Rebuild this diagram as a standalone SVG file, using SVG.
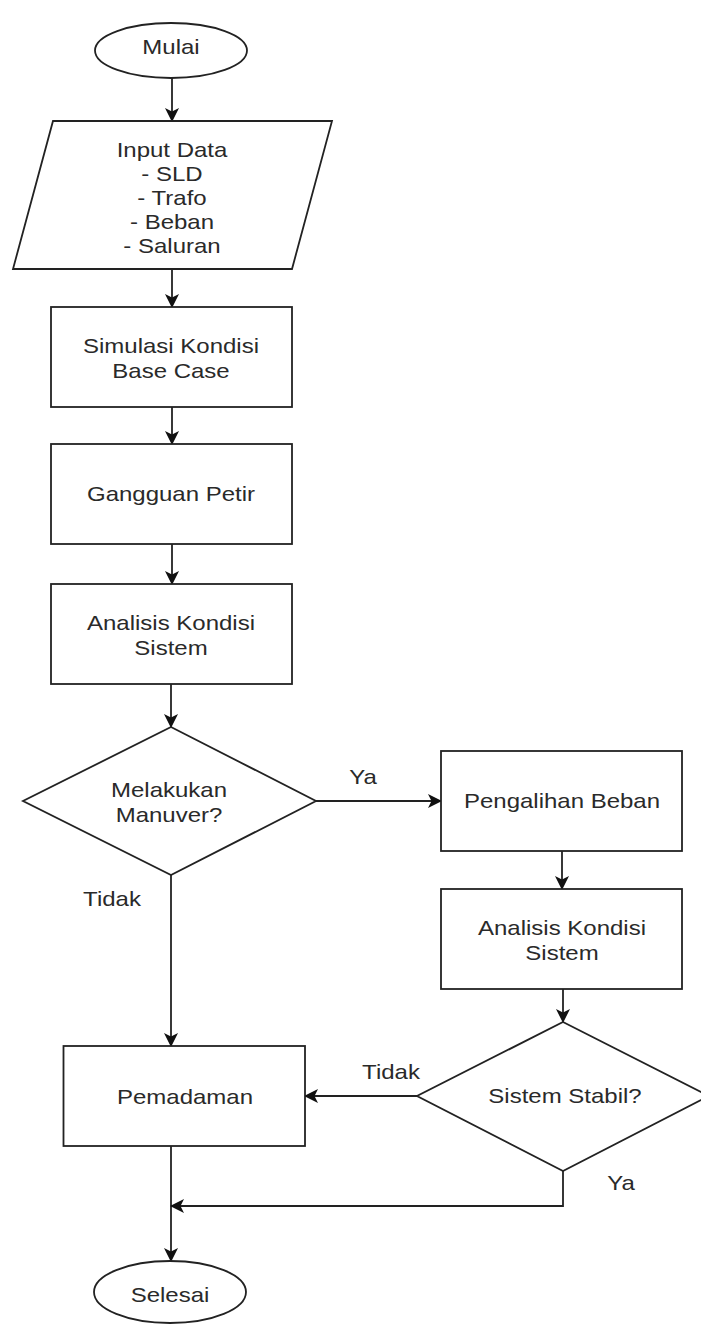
<svg xmlns="http://www.w3.org/2000/svg" width="701" height="1324" viewBox="0 0 701 1324">
<style>
.s{fill:#fff;stroke:#222;stroke-width:1.8}
.t{font-family:"Liberation Sans",Arial,sans-serif;font-size:20px;fill:#2a2a2a;text-anchor:middle}
.c{fill:none;stroke:#222;stroke-width:1.8}
</style>
<defs>
<marker id="a" markerUnits="userSpaceOnUse" markerWidth="16" markerHeight="16" refX="13" refY="7" orient="auto">
<path d="M0,0 L14,7 L0,14 L3.5,7 z" fill="#111"/>
</marker>
</defs>
<rect width="701" height="1324" fill="#fff"/>
<g id="connectors">
<path class="c" d="M172,78 V121" marker-end="url(#a)"/>
<path class="c" d="M172,269 V307" marker-end="url(#a)"/>
<path class="c" d="M172,407 V444" marker-end="url(#a)"/>
<path class="c" d="M172,544 V584" marker-end="url(#a)"/>
<path class="c" d="M171,684 V727" marker-end="url(#a)"/>
<path class="c" d="M316,801 H441" marker-end="url(#a)"/>
<path class="c" d="M562,851 V889" marker-end="url(#a)"/>
<path class="c" d="M563,989 V1022" marker-end="url(#a)"/>
<path class="c" d="M171,875 V1046" marker-end="url(#a)"/>
<path class="c" d="M417,1096 H305" marker-end="url(#a)"/>
<path class="c" d="M171,1146 V1261" marker-end="url(#a)"/>
<path class="c" d="M563,1171 V1206 H171" marker-end="url(#a)"/>
<g id="labels">
<text class="t" transform="translate(363,784) scale(1.2,1)">Ya</text>
<text class="t" transform="translate(112,906) scale(1.2,1)">Tidak</text>
<text class="t" transform="translate(391,1079) scale(1.2,1)">Tidak</text>
<text class="t" transform="translate(621,1190) scale(1.2,1)">Ya</text>
</g>
</g>
<g id="mulai">
<ellipse class="s" cx="171" cy="50.5" rx="76" ry="27.5"/>
<text class="t" transform="translate(171,54) scale(1.2,1)">Mulai</text>
</g>
<g id="input">
<polygon class="s" points="53,121 332,121 292,269 13,269"/>
<text class="t" transform="translate(172,157) scale(1.2,1)">Input Data</text>
<text class="t" transform="translate(172,181) scale(1.2,1)">- SLD</text>
<text class="t" transform="translate(172,205) scale(1.2,1)">- Trafo</text>
<text class="t" transform="translate(172,229) scale(1.2,1)">- Beban</text>
<text class="t" transform="translate(172,253) scale(1.2,1)">- Saluran</text>
</g>
<g id="simulasi">
<rect class="s" x="51" y="307" width="241" height="100"/>
<text class="t" transform="translate(171,353) scale(1.2,1)">Simulasi Kondisi</text>
<text class="t" transform="translate(171,378) scale(1.2,1)">Base Case</text>
</g>
<g id="gangguan">
<rect class="s" x="51" y="444" width="241" height="100"/>
<text class="t" transform="translate(171,501) scale(1.2,1)">Gangguan Petir</text>
</g>
<g id="analisis1">
<rect class="s" x="51" y="584" width="241" height="100"/>
<text class="t" transform="translate(171,630) scale(1.2,1)">Analisis Kondisi</text>
<text class="t" transform="translate(171,655) scale(1.2,1)">Sistem</text>
</g>
<g id="manuver">
<polygon class="s" points="171,727 316,801 171,875 23,801"/>
<text class="t" transform="translate(169,797) scale(1.2,1)">Melakukan</text>
<text class="t" transform="translate(169,822) scale(1.2,1)">Manuver?</text>
</g>
<g id="pengalihan">
<rect class="s" x="441" y="751" width="241" height="100"/>
<text class="t" transform="translate(562,808) scale(1.2,1)">Pengalihan Beban</text>
</g>
<g id="analisis2">
<rect class="s" x="441" y="889" width="241" height="100"/>
<text class="t" transform="translate(562,935) scale(1.2,1)">Analisis Kondisi</text>
<text class="t" transform="translate(562,960) scale(1.2,1)">Sistem</text>
</g>
<g id="stabil">
<polygon class="s" points="563,1022 709,1096 563,1171 417,1096"/>
<text class="t" transform="translate(565,1103) scale(1.2,1)">Sistem Stabil?</text>
</g>
<g id="pemadaman">
<rect class="s" x="63.5" y="1046" width="241.5" height="100"/>
<text class="t" transform="translate(185,1104) scale(1.2,1)">Pemadaman</text>
</g>
<g id="selesai">
<ellipse class="s" cx="170" cy="1292" rx="76" ry="31"/>
<text class="t" transform="translate(170,1302) scale(1.2,1)">Selesai</text>
</g>
</svg>
